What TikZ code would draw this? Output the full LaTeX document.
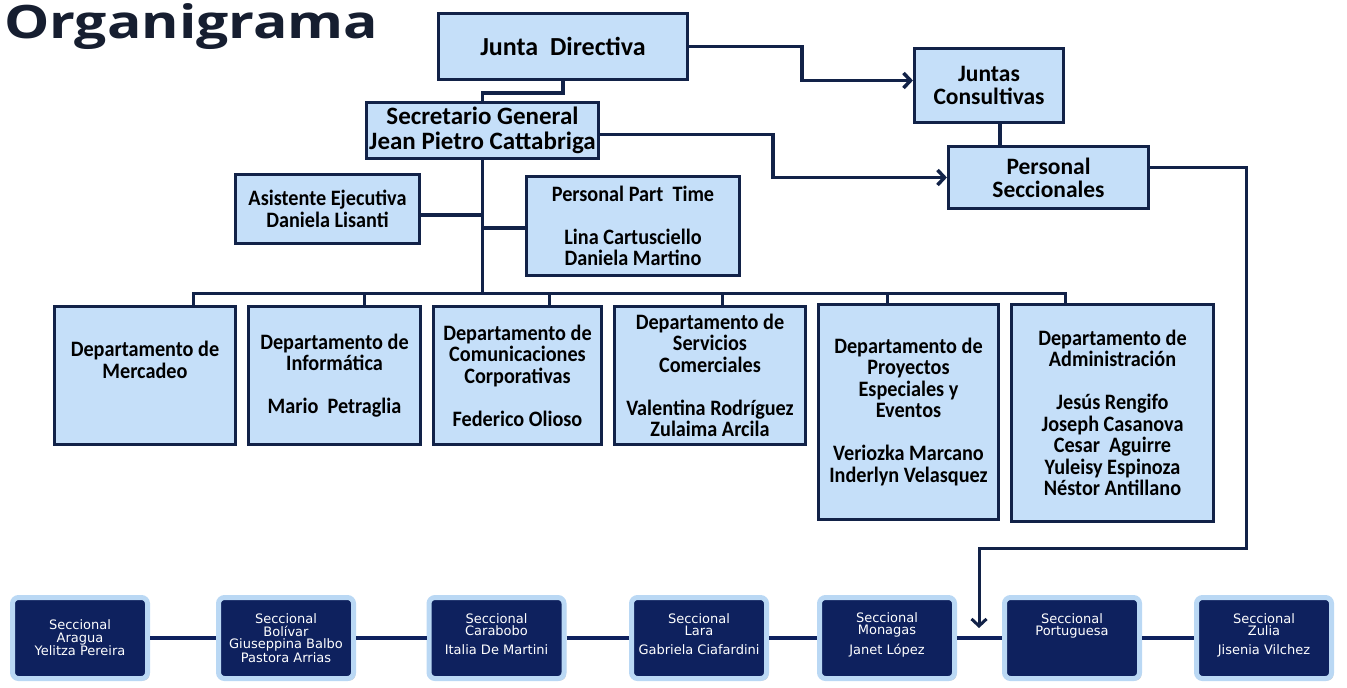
\documentclass[tikz,border=0pt]{standalone}
\usepackage{fontspec}
\usepackage{xcolor}
\usepackage{tikz}
\usetikzlibrary{positioning}
\usetikzlibrary{arrows.meta}
\usetikzlibrary{shadows}
\newfontfamily\cajafont{Carlito}[FakeStretch=0.92]
\newfontfamily\grandefont{Carlito}
\newfontfamily\titulofont{Open Sans}[FakeStretch=1.24]
\newfontfamily\seccfont{DejaVu Sans}
\definecolor{celeste}{RGB}{197,223,249}
\definecolor{marino}{RGB}{18,34,72}
\definecolor{azuloscuro}{RGB}{14,33,94}
\definecolor{brillo}{RGB}{186,216,244}
\definecolor{tinta}{RGB}{22,30,48}

\begin{document}
\begin{tikzpicture}[x=1pt,y=-1pt,
	linea/.style={draw=marino,line width=3.5pt},
	flecha/.style={linea,-{Straight Barb[length=7pt,width=15pt]}},
	font=\cajafont\bfseries\fontsize{22}{21.5}\selectfont]
	\tikzstyle{caja}=[draw=marino,line width=3.2pt,fill=celeste,inner sep=0pt,align=center,text=black]
	\tikzstyle{grande}=[caja,font=\grandefont\bfseries\fontsize{23.5}{23}\selectfont]
	\tikzstyle{seccional}=[draw=brillo,line width=5pt,fill=azuloscuro,rounded corners=6pt,
		minimum width=135,minimum height=81,inner sep=0pt,align=center,text=white,
		font=\seccfont\fontsize{13}{12.5}\selectfont,
		drop shadow={shadow xshift=2pt,shadow yshift=-2pt,opacity=.35,fill=black!60}]
	\useasboundingbox (0,0) rectangle (1347,688);

	\node[anchor=base west,inner sep=0pt,text=tinta,font=\titulofont\bfseries\fontsize{46}{46}\selectfont] (titulo) at (4,38) {Organigrama};

	\node[grande,minimum width=249,minimum height=66,font=\grandefont\bfseries\fontsize{26}{26}\selectfont] (jd) at (563,46.5) {Junta\ \ Directiva};
	\node[grande,minimum width=232,minimum height=56,font=\grandefont\bfseries\fontsize{25}{24.5}\selectfont] (sg) at (482.5,130.5) {Secretario General\\Jean Pietro Cattabriga};
	\node[grande,minimum width=149,minimum height=74] (jc) at (989,85.5) {Juntas\\Consultivas};
	\node[grande,minimum width=200,minimum height=62] (ps) at (1048.5,177.5) {Personal\\Seccionales};
	\node[caja,minimum width=184,minimum height=69] (ae) at (327.5,209) {Asistente Ejecutiva\\Daniela Lisanti};
	\node[caja,minimum width=213,minimum height=99] (pt) at (633,226) {Personal Part\ \ Time\\[21.5pt]Lina Cartusciello\\Daniela Martino};

	\node[caja,line width=3.5pt,minimum width=181,minimum height=138] (d1) at (145,375.5) {Departamento de\\Mercadeo\\[10pt]};
	\node[caja,line width=3.5pt,minimum width=172,minimum height=138] (d2) at (334.5,375.5) {Departamento de\\Informática\\[21.5pt]Mario\ \ Petraglia};
	\node[caja,line width=3.5pt,minimum width=168,minimum height=138] (d3) at (517.5,375.5) {Departamento de\\Comunicaciones\\Corporativas\\[21.5pt]Federico Olioso};
	\node[caja,line width=3.5pt,minimum width=191,minimum height=138] (d4) at (710,375.5) {Departamento de\\Servicios\\Comerciales\\[21.5pt]Valentina Rodríguez\\Zulaima Arcila};
	\node[caja,line width=3.5pt,minimum width=180,minimum height=215] (d5) at (908.5,412) {Departamento de\\Proyectos\\Especiales y\\Eventos\\[21.5pt]Veriozka Marcano\\Inderlyn Velasquez};
	\node[caja,line width=3.5pt,minimum width=202,minimum height=217] (d6) at (1112.5,413) {Departamento de\\Administración\\[21.5pt]Jesús Rengifo\\Joseph Casanova\\Cesar\ \ Aguirre\\Yuleisy Espinoza\\Néstor Antillano};

	\node[seccional] (s1) at (80,638) {Seccional\\Aragua\\Yelitza Pereira};
	\node[seccional] (s2) at (286,638) {Seccional\\Bolívar\\Giuseppina Balbo\\Pastora Arrias};
	\node[seccional] (s3) at (496.5,638) {Seccional\\Carabobo\\[6pt]Italia De Martini\\[-4pt]};
	\node[seccional] (s4) at (699,638) {Seccional\\Lara\\[6pt]Gabriela Ciafardini\\[-4pt]};
	\node[seccional] (s5) at (887,638) {Seccional\\Monagas\\[6pt]Janet López\\[-4pt]};
	\node[seccional] (s6) at (1072,638) {Seccional\\Portuguesa\\[6pt]~\\[-4pt]};
	\node[seccional] (s7) at (1264,638) {Seccional\\Zulia\\[6pt]Jisenia Vilchez\\[-4pt]};

	\draw[linea] (jd.south) -- ++(0,12) -| (sg.north);
	\draw[flecha] (jd.east) -- ++(113,0) |- ([yshift=5pt]jc.west);
	\draw[flecha] ([yshift=-4pt]sg.east) -- ++(173,0) |- (ps.west);
	\draw[linea] ([xshift=11pt]jc.south) -- ([xshift=11pt]jc.south |- ps.north);

	\coordinate (busL) at (193,293);
	\coordinate (busR) at (1065,293);
	\draw[linea] (sg.south) -- (sg.south |- busL);
	\draw[linea] ([yshift=-6pt]ae.east) -- ([yshift=-6pt]ae.east -| sg.south);
	\draw[linea] ([yshift=-2pt]pt.west) -- ([yshift=-2pt]pt.west -| sg.south);
	\draw[linea,line width=3pt] ([xshift=48pt]d1.north) -- (busL) -- (busR) -- ([xshift=-47.5pt]d6.north);
	\foreach \d/\s in {d2/29.5,d3/31.5,d4/12,d5/-21.5}
		\draw[linea,line width=3pt] ([xshift=\s pt]\d.north) -- ([xshift=\s pt]\d.north |- busL);

	\coordinate (giro) at (1246,548);
	\coordinate (llegada) at (979,628);
	\draw[flecha,line width=3pt] ([yshift=10pt]ps.east) -| (giro) -| (llegada);

	\foreach \a/\b in {s1/s2,s2/s3,s3/s4,s4/s5,s5/s6,s6/s7}
		\draw[linea,line width=4pt,draw=azuloscuro] (\a.east) -- (\b.west);
\end{tikzpicture}
\end{document}
